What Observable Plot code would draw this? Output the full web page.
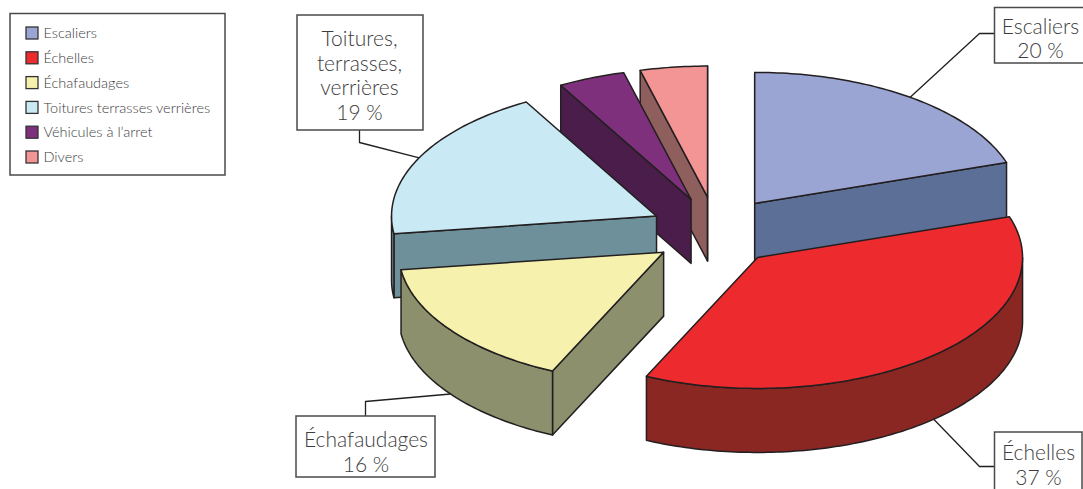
<!DOCTYPE html>
<html lang="fr">
<head>
<meta charset="utf-8">
<title>Répartition des chutes de hauteur</title>
<script src="https://cdn.jsdelivr.net/npm/d3@7"></script>
<script src="https://cdn.jsdelivr.net/npm/@observablehq/plot@0.6"></script>
<style>
  html, body { margin: 0; padding: 0; background: #fff; overflow: hidden; }
  svg { display: block; }
</style>
</head>
<body>
<div id="chart"></div>
<script>
// Categories and shares, in clockwise order from twelve o'clock
const categories = ["Escaliers", "Échelles", "Échafaudages", "Toitures terrasses verrières", "Véhicules à l’arret", "Divers"];
const shares = [20, 37, 16, 19, 4.1, 4.1];
const topColors = ["#9AA5D3", "#ED2A2E", "#F6F2AE", "#C9E9F5", "#7F307D", "#F49595"];
const sideColors = ["#5C6F96", "#8B2723", "#8D906C", "#6E909A", "#4B1D4B", "#8E5F5C"];

// Callout text; leader bends and boxes belong to the slices listed in calloutSlices
const calloutSlices = [0, 1, 2, 3];
const calloutText = ["Escaliers\n20 %", "Échelles\n37 %", "Échafaudages\n16 %", "Toitures,\nterrasses,\nverrières\n19 %"];
const calloutBoxes = [
  {x1: 994.5, x2: 1090, y1: 7.5, y2: 63},
  {x1: 994.5, x2: 1082, y1: 432, y2: 500},
  {x1: 296, x2: 435, y1: 416, y2: 477},
  {x1: 297, x2: 423, y1: 15, y2: 130}
];
const calloutBends = [
  [[979, 33], [994.5, 33]],
  [[979, 466], [994.5, 466]],
  [[365, 401], [365, 416]],
  [[359, 142], [359, 130]]
];
const calloutLabelAt = [[1040, 37.5], [1038, 464], [365.5, 451], [359, 74.5]];

// Pie projection: tilted ellipse, rim height, and how far each slice is pulled out
const centre = {x: 713, y: 231};
const rx = 265, ry = 131, rim = 64;
const pullX = [0.265, 0.25, 0.234, 0.24, 0.225, 0.175];
const pullY = 0.265;

const ink = "#231F20";
const total = d3.sum(shares);
const radians = Math.PI / 180;
const cum = d3.cumsum(shares);

const slices = categories.map((name, i) => {
  const a0 = (i ? cum[i - 1] : 0) / total * 360;
  const a1 = cum[i] / total * 360;
  const mid = (a0 + a1) / 2;
  const apex = {
    x: centre.x + rx * pullX[i] * Math.sin(mid * radians),
    y: centre.y - ry * pullY * Math.cos(mid * radians)
  };
  const at = (deg, drop = 0) => ({
    x: apex.x + rx * Math.sin(deg * radians),
    y: apex.y - ry * Math.cos(deg * radians) + drop
  });
  return {name, i, a0, a1, mid, apex, at};
});

function arc(s, from, to, drop = 0) {
  const n = Math.max(2, Math.ceil(to - from));
  return d3.range(n + 1).map((k) => s.at(from + (to - from) * k / n, drop));
}

function polygon(points, fill) {
  return Plot.line(points, {
    x: "x", y: "y", fill, stroke: ink, strokeWidth: 1.5,
    strokeLinejoin: "round", curve: "linear-closed"
  });
}

// Walls and top of a single slice, walls first
function sliceMarks(s) {
  const marks = [];
  const side = sideColors[s.i];
  const wall = (deg) => {
    const outer = s.at(deg), lower = s.at(deg, rim);
    return [s.apex, outer, lower, {x: s.apex.x, y: s.apex.y + rim}];
  };
  const eps = 1e-6;
  if (Math.sin(s.a0 * radians) <= eps) marks.push(polygon(wall(s.a0), side));
  if (Math.sin(s.a1 * radians) >= -eps) marks.push(polygon(wall(s.a1), side));
  const from = Math.max(s.a0, 90), to = Math.min(s.a1, 270);
  if (to > from) {
    marks.push(polygon([...arc(s, from, to), ...arc(s, from, to, rim).reverse()], side));
  }
  marks.push(polygon([s.apex, ...arc(s, s.a0, s.a1)], topColors[s.i]));
  return marks;
}

// Back slices first so the nearer ones overlap them
const paintOrder = [5, 4, 0, 3, 2, 1];
const pieMarks = paintOrder.flatMap((i) => sliceMarks(slices[i]));

// Leaders start on the outer edge at each slice's mid-angle
const leaderMarks = calloutSlices.map((sliceIndex, k) => {
  const s = slices[sliceIndex];
  const onRim = s.mid > 90 && s.mid < 270;
  const start = s.at(s.mid, onRim ? rim : 0);
  return Plot.line([start, ...calloutBends[k].map(([x, y]) => ({x, y}))], {
    x: "x", y: "y", stroke: ink, strokeWidth: 1.3
  });
});

const labelFont = {fontFamily: "Lato, 'Open Sans', sans-serif", fontWeight: 300, fill: "#3d3d3d"};

const calloutMarks = calloutSlices.flatMap((_, k) => [
  Plot.rect([calloutBoxes[k]], {
    x1: "x1", x2: "x2", y1: "y1", y2: "y2", fill: "#fff", stroke: "#4a4a4a", strokeWidth: 1.5
  }),
  Plot.text([calloutText[k]], {
    x: () => calloutLabelAt[k][0], y: () => calloutLabelAt[k][1], text: (d) => d,
    fontSize: 21, lineHeight: 1.17, lineAnchor: "middle", textAnchor: "middle", ...labelFont
  })
]);

// Legend rows in the same order as the slices
const legendRows = categories.map((name, i) => ({name, i, y: 33 + i * 24.8}));
const legendMarks = [
  Plot.rect([{x1: 10, x2: 225, y1: 13.5, y2: 175}], {
    x1: "x1", x2: "x2", y1: "y1", y2: "y2", fill: "#fff", stroke: "#4a4a4a", strokeWidth: 1.5
  }),
  Plot.rect(legendRows, {
    x1: () => 26, x2: () => 38, y1: (d) => d.y - 6, y2: (d) => d.y + 6,
    fill: (d) => topColors[d.i], stroke: "#333", strokeWidth: 1.3
  }),
  Plot.text(legendRows, {
    x: () => 43, y: "y", text: "name", textAnchor: "start", fontSize: 14.5, ...labelFont
  })
];

const chart = Plot.plot({
  width: 1083,
  height: 489,
  margin: 0,
  style: {background: "#fff"},
  x: {domain: [0, 1083], range: [0, 1083], axis: null},
  y: {domain: [0, 489], range: [0, 489], axis: null},
  color: {type: "identity"},
  marks: [...leaderMarks, ...pieMarks, ...calloutMarks, ...legendMarks]
});
document.getElementById("chart").append(chart);
</script>
</body>
</html>
